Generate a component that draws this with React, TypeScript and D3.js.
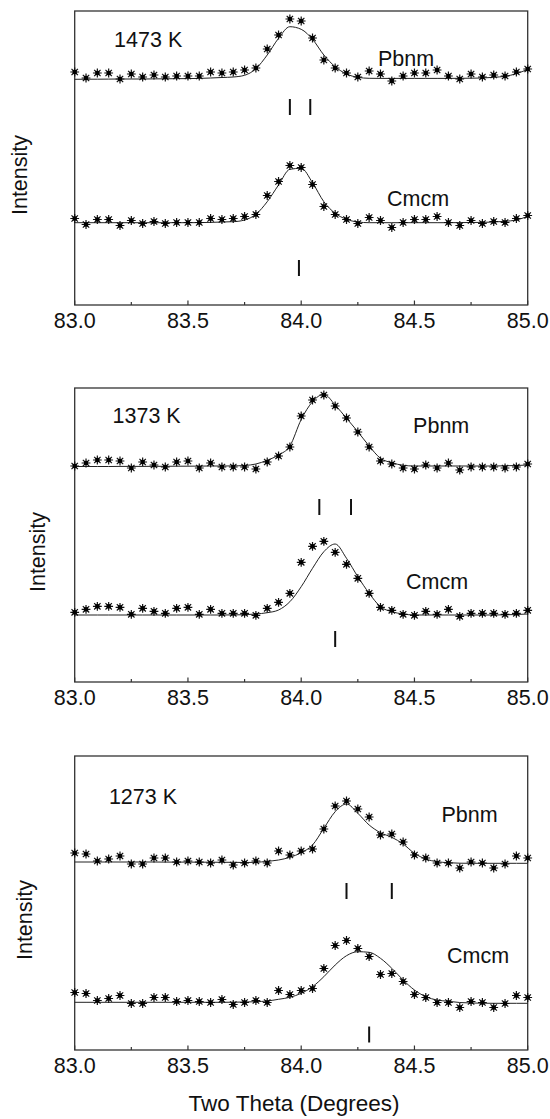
import React, { useEffect, useRef } from "react";
import * as d3 from "d3";

// two-theta grid of the scan (degrees)
const twoTheta = [
  83.0, 83.05, 83.1, 83.15, 83.2, 83.25, 83.3, 83.35, 83.4, 83.45, 83.5,
  83.55, 83.6, 83.65, 83.7, 83.75, 83.8, 83.85, 83.9, 83.95, 84.0, 84.05,
  84.1, 84.15, 84.2, 84.25, 84.3, 84.35, 84.4, 84.45, 84.5, 84.55, 84.6,
  84.65, 84.7, 84.75, 84.8, 84.85, 84.9, 84.95, 85.0,
];

const temperatures = ["1473 K", "1373 K", "1273 K"];
const phases = ["Pbnm", "Cmcm"];

// observed intensities (arb. units), one scan per temperature
const obs1473 = [233, 227, 232, 232, 226, 231, 228, 230, 228, 229, 229, 229, 233, 232, 233, 235, 237, 256, 270, 286, 284, 267, 245, 237, 232, 228, 234, 231, 224, 229, 232, 232, 235, 229, 226, 231, 228, 230, 229, 233, 236];
const obs1373 = [216, 219, 222, 222, 221, 214, 220, 217, 215, 220, 221, 214, 219, 215, 215, 215, 213, 220, 226, 235, 266, 282, 287, 276, 264, 250, 235, 221, 218, 214, 213, 217, 214, 219, 212, 215, 215, 215, 214, 215, 218];
const obs1273 = [197, 196, 189, 191, 194, 186, 186, 192, 192, 188, 189, 188, 187, 190, 185, 187, 189, 187, 199, 195, 199, 201, 221, 244, 249, 241, 233, 215, 216, 208, 195, 192, 187, 187, 182, 188, 187, 182, 186, 194, 192];

// vertical shift of the Cmcm copy of each scan
const cmcmShift = [146.5, 146.3, 139.5];

// calculated profiles
const fitPbnm1473 = [225.7, 225.8, 225.8, 225.9, 226, 226, 226, 226.1, 226.2, 226.3, 226.4, 226.6, 227, 227.5, 228, 229.7, 236.3, 250, 266.7, 278.3, 275.7, 265.7, 250, 238.3, 231, 227.7, 226.7, 226.6, 226.6, 226.6, 226.6, 226.6, 226.6, 226.6, 226.7, 226.8, 227, 227.7, 228.7, 231.3, 235.7];
const fitCmcm1473 = [82.3, 82.3, 82.3, 82.3, 82.3, 82.3, 82.3, 82.3, 82.3, 82.3, 82.3, 82.4, 82.6, 83, 83.3, 85, 90.7, 103.3, 120, 135.7, 136.7, 122.3, 103.3, 91.7, 85.7, 83, 82.3, 82.3, 82.3, 82.3, 82.3, 82.3, 82.3, 82.3, 82.4, 82.5, 82.6, 83, 83.7, 85, 88.7];
const fitPbnm1373 = [215.5, 215.5, 215.5, 215.5, 215.6, 215.6, 215.6, 215.7, 215.7, 215.8, 215.8, 215.9, 216, 216, 216.1, 216.5, 218, 221.7, 227, 236, 262.5, 280.3, 287.7, 277, 263.7, 250.3, 236, 223.7, 219.3, 216.7, 216, 216, 216, 216, 216, 216, 216, 216, 216.2, 216.5, 217];
const fitCmcm1373 = [67, 67, 67, 67, 67, 67, 67, 67, 67, 67, 67, 67, 67, 67, 67.1, 67.3, 68, 69.3, 72, 80.3, 95.3, 113.7, 130.3, 138, 123.7, 105.3, 88.7, 75.3, 70.3, 68, 67, 67, 67, 67, 67, 67, 67, 67, 67.2, 67.5, 68];
const fitPbnm1273 = [188, 188, 188, 188, 188, 188, 188, 188, 187.9, 187.9, 187.9, 187.8, 187.8, 187.7, 187.7, 187.5, 187.7, 188.7, 190, 192.7, 197.3, 205, 221.7, 238.3, 246, 236.7, 225, 217.3, 212.7, 206, 196.7, 191, 188.3, 187.3, 186.8, 186.7, 186.7, 186.7, 186.7, 186.7, 186.7];
const fitCmcm1273 = [47.7, 47.7, 47.7, 47.7, 47.7, 47.7, 47.7, 47.7, 47.7, 47.7, 47.7, 47.7, 47.7, 47.7, 47.8, 48, 48.3, 49, 50.7, 52.7, 56.7, 63.3, 73.3, 85, 94.3, 98.3, 97.7, 91.7, 81.7, 70, 60, 53.3, 50, 48.7, 47.5, 47, 46.8, 46.7, 46.7, 46.7, 46.7];

// reflection positions (two theta)
const reflPbnm = [[83.95, 84.04], [84.08, 84.22], [84.2, 84.4]];
const reflCmcm = [[83.99], [84.15], [84.3]];

const xTicks = [83.0, 83.5, 84.0, 84.5, 85.0];
const xMinorTicks = [83.25, 83.75, 84.25, 84.75];

// layout per panel (pixels / intensity units for annotation placement)
const panelTop = [11, 388, 756];
const panelH = 294;
const tempLabelAt = [[83.174, 258.5], [83.167, 259.5], [83.151, 246]];
const pbnmLabelAt = [[84.339, 239], [84.494, 249.5], [84.619, 228.5]];
const cmcmLabelAt = [[84.379, 99], [84.463, 93], [84.644, 87]];
const reflLevel = [[198, 37], [175, 43], [159, 15.5]];
const yLabelX = [20, 38, 25];

const obsAll = [obs1473, obs1373, obs1273];
const fitAll = [
  [fitPbnm1473, fitCmcm1473],
  [fitPbnm1373, fitCmcm1373],
  [fitPbnm1273, fitCmcm1273],
];

const FONT = "'Liberation Sans', Arial, Helvetica, sans-serif";
const W = 550;
const H = 1119;
const left = 74.7;
const right = 527.7;

const starPath = "M-4.4,0H4.4M0,-4.4V4.4M-3.2,-3.2L3.2,3.2M-3.2,3.2L3.2,-3.2";

export default function App() {
  const ref = useRef<SVGSVGElement>(null);

  useEffect(() => {
    const svg = d3.select(ref.current);
    svg.selectAll("*").remove();

    const x = d3.scaleLinear().domain([83, 85]).range([left, right]);

    temperatures.forEach((temp, p) => {
      const top = panelTop[p];
      const bottom = top + panelH;
      const y = d3.scaleLinear().domain([0, panelH]).range([bottom, top]);
      const g = svg.append("g");

      // frame
      g.append("rect")
        .attr("x", left)
        .attr("y", top)
        .attr("width", right - left)
        .attr("height", panelH)
        .attr("fill", "none")
        .attr("stroke", "#333")
        .attr("stroke-width", 1.3);

      // ticks (inward)
      g.selectAll(".major")
        .data(xTicks)
        .enter()
        .append("line")
        .attr("x1", (d) => x(d))
        .attr("x2", (d) => x(d))
        .attr("y1", bottom)
        .attr("y2", bottom - 4.5)
        .attr("stroke", "#333")
        .attr("stroke-width", 1.2);
      g.selectAll(".minor")
        .data(xMinorTicks)
        .enter()
        .append("line")
        .attr("x1", (d) => x(d))
        .attr("x2", (d) => x(d))
        .attr("y1", bottom)
        .attr("y2", bottom - 3)
        .attr("stroke", "#333")
        .attr("stroke-width", 1.2);
      g.selectAll(".tickLabel")
        .data(xTicks)
        .enter()
        .append("text")
        .attr("x", (d) => x(d))
        .attr("y", bottom + 23)
        .attr("text-anchor", "middle")
        .attr("font-family", FONT)
        .attr("font-size", 21.5)
        .attr("fill", "#111")
        .text((d) => d3.format(".1f")(d));

      // y label
      g.append("text")
        .attr("transform", `translate(${yLabelX[p]},${(top + bottom) / 2 + 17}) rotate(-90)`)
        .attr("text-anchor", "middle")
        .attr("dominant-baseline", "central")
        .attr("font-family", FONT)
        .attr("font-size", 21.5)
        .attr("fill", "#111")
        .text("Intensity");

      // temperature + phase labels
      const lab = (at: number[], txt: string) =>
        g.append("text")
          .attr("x", x(at[0]))
          .attr("y", y(at[1]))
          .attr("font-family", FONT)
          .attr("font-size", 21.5)
          .attr("fill", "#111")
          .text(txt);
      lab(tempLabelAt[p], temp);
      lab(pbnmLabelAt[p], phases[0]);
      lab(cmcmLabelAt[p], phases[1]);

      const line = d3
        .line<number>()
        .x((_, i) => x(twoTheta[i]))
        .y((d) => y(d))
        .curve(d3.curveMonotoneX);

      phases.forEach((ph, k) => {
        const shift = k === 0 ? 0 : cmcmShift[p];
        const obs = obsAll[p].map((v) => v - shift);

        g.append("path")
          .datum(fitAll[p][k])
          .attr("d", line)
          .attr("fill", "none")
          .attr("stroke", "#222")
          .attr("stroke-width", 1);

        const pts = g
          .selectAll(`.pt${k}`)
          .data(obs)
          .enter()
          .append("g")
          .attr("transform", (d, i) => `translate(${x(twoTheta[i])},${y(d)})`);
        pts.append("path")
          .attr("d", starPath)
          .attr("stroke", "#111")
          .attr("stroke-width", 1.2);
        pts.append("rect")
          .attr("x", -2.1)
          .attr("y", -2.1)
          .attr("width", 4.2)
          .attr("height", 4.2)
          .attr("fill", "#000");

        const refl = k === 0 ? reflPbnm[p] : reflCmcm[p];
        const lv = reflLevel[p][k];
        g.selectAll(`.refl${k}`)
          .data(refl)
          .enter()
          .append("line")
          .attr("x1", (d) => x(d))
          .attr("x2", (d) => x(d))
          .attr("y1", y(lv) - 8)
          .attr("y2", y(lv) + 8)
          .attr("stroke", "#111")
          .attr("stroke-width", 2);
      });
    });

    svg.append("text")
      .attr("x", 294)
      .attr("y", 1111)
      .attr("text-anchor", "middle")
      .attr("font-family", FONT)
      .attr("font-size", 22.5)
      .attr("fill", "#111")
      .text("Two Theta (Degrees)");
  }, []);

  return (
    <svg
      ref={ref}
      width={W}
      height={H}
      style={{ position: "absolute", left: 0, top: 0, background: "#fff" }}
    />
  );
}
